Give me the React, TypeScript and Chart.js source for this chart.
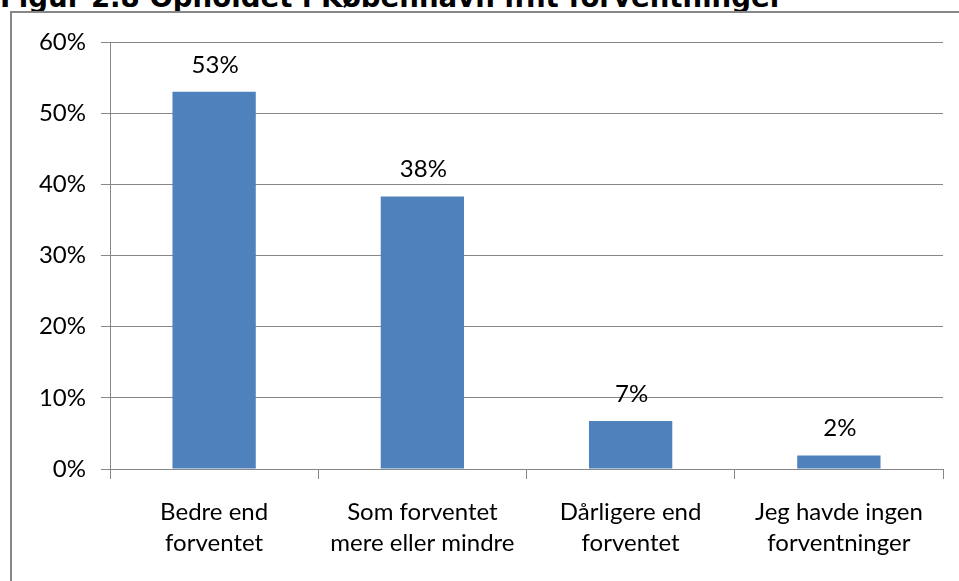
import React, { useEffect, useRef } from "react";
import { Chart, registerables } from "chart.js";

Chart.register(...registerables);

const titleText = "Figur 2.8 Opholdet i København ifht forventninger";
const categories: string[][] = [
  ["Bedre end", "forventet"],
  ["Som forventet", "mere eller mindre"],
  ["Dårligere end", "forventet"],
  ["Jeg havde ingen", "forventninger"],
];
const values: number[] = [53.0, 38.3, 6.75, 1.9];
const valueLabels: string[] = ["53%", "38%", "7%", "2%"];
const yMin = 0;
const yMax = 60;
const yStep = 10;

const FONT = "Lato, 'Open Sans', sans-serif";
const FONT_SIZE = 24;
const GRID = "#878787";
const BAR = "#4F81BD";

const dataLabelPlugin = {
  id: "valueLabels",
  afterDatasetsDraw(chart: any) {
    const ctx = chart.ctx;
    const meta = chart.getDatasetMeta(0);
    ctx.save();
    ctx.font = `${FONT_SIZE}px ${FONT}`;
    ctx.fillStyle = "#000";
    ctx.textAlign = "center";
    ctx.textBaseline = "alphabetic";
    meta.data.forEach((el: any, i: number) => {
      ctx.fillText(valueLabels[i], el.x + 1, el.y - 19);
    });
    ctx.restore();
  },
};

export default function App() {
  const ref = useRef<HTMLCanvasElement | null>(null);
  useEffect(() => {
    if (!ref.current) return;
    const chart = new Chart(ref.current, {
      type: "bar",
      data: {
        labels: categories,
        datasets: [
          {
            data: values,
            backgroundColor: BAR,
            borderWidth: 0,
            barPercentage: 0.4,
            categoryPercentage: 1,
          },
        ],
      },
      options: {
        animation: false,
        responsive: false,
        devicePixelRatio: 1,
        layout: { padding: { left: 0, right: 16, top: 42, bottom: 0 } },
        plugins: {
          legend: { display: false },
          tooltip: { enabled: false },
          title: { display: false },
        },
        scales: {
          x: {
            afterFit: (s: any) => {
              s.height = 112;
            },
            offset: true,
            grid: {
              offset: true,
              drawOnChartArea: false,
              drawTicks: true,
              tickLength: 10,
              color: GRID,
              lineWidth: 1,
            },
            border: { display: true, color: GRID, width: 1 },
            ticks: {
              color: "#000",
              font: { family: FONT, size: FONT_SIZE, lineHeight: 31 / FONT_SIZE },
              padding: 18,
              maxRotation: 0,
              autoSkip: false,
            },
          },
          y: {
            afterFit: (s: any) => {
              s.width = 110;
            },
            min: yMin,
            max: yMax,
            grid: {
              color: GRID,
              lineWidth: 1,
              drawTicks: true,
              tickLength: 9,
            },
            border: { display: true, color: GRID, width: 1 },
            ticks: {
              stepSize: yStep,
              color: "#000",
              font: { family: FONT, size: FONT_SIZE },
              padding: 15,
              callback: (v: any) => `${v}%`,
            },
          },
        },
      },
      plugins: [dataLabelPlugin],
    });
    return () => chart.destroy();
  }, []);

  return (
    <div
      style={{
        position: "absolute",
        left: 0,
        top: 0,
        width: 959,
        height: 581,
        overflow: "hidden",
        background: "#fff",
      }}
    >
      <div
        style={{
          position: "absolute",
          left: 0,
          top: -16,
          fontFamily: "'DejaVu Sans', Verdana, sans-serif",
          fontWeight: "bold",
          fontSize: 27.6,
          lineHeight: "27px",
          color: "#000",
          whiteSpace: "nowrap",
        }}
      >
        {titleText}
      </div>
      <div
        style={{
          position: "absolute",
          left: 10,
          top: 11,
          width: 980,
          height: 600,
          borderLeft: `2px solid ${GRID}`,
          borderTop: `2px solid ${GRID}`,
        }}
      />
      <canvas
        ref={ref}
        width={959}
        height={581}
        style={{ position: "absolute", left: 0, top: 0, width: 959, height: 581 }}
      />
    </div>
  );
}
